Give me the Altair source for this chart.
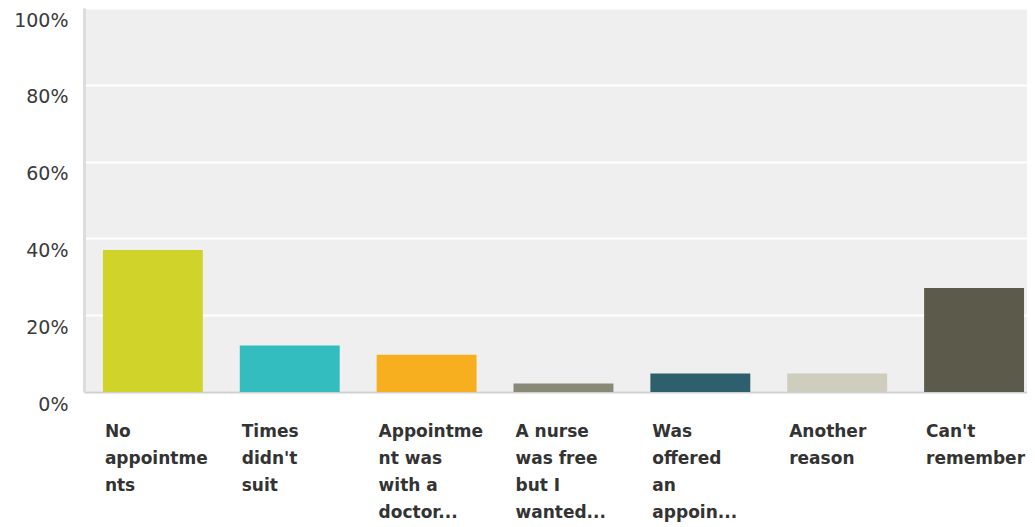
import altair as alt
import pandas as pd

# Category labels as displayed (line-wrapped like the reference)
label_lines = [
    ["No", "appointme", "nts"],
    ["Times", "didn't", "suit"],
    ["Appointme", "nt was", "with a", "doctor..."],
    ["A nurse", "was free", "but I", "wanted..."],
    ["Was", "offered", "an", "appoin..."],
    ["Another", "reason"],
    ["Can't", "remember"],
]
categories = ["|".join(l) for l in label_lines]
values = [0.370, 0.121, 0.097, 0.022, 0.048, 0.048, 0.271]
colors = ["#d0d42a", "#33bdbf", "#f7af20", "#888a77", "#2d5f6c", "#cfcdbd", "#5c5b4b"]
y_ticks = [0, 0.2, 0.4, 0.6, 0.8, 1.0]

df = pd.DataFrame({"category": categories, "value": values})

chart = (
    alt.Chart(df)
    .mark_bar()
    .encode(
        x=alt.X(
            "category:N",
            sort=None,
            title=None,
            scale=alt.Scale(paddingInner=0.27, paddingOuter=0.08, align=0.864, round=False),
            axis=alt.Axis(
                labelExpr="split(datum.value, '|')",
                labelAngle=0,
                labelAlign="left",
                labelBaseline="alphabetic",
                labelOffset=-48,
                labelPadding=44,
                labelLineHeight=27,
                labelFont="DejaVu Sans",
                labelFontWeight="bold",
                labelFontSize=17,
                labelColor="#333333",
                labelLimit=0,
                ticks=False,
                tickSize=0,
                domainColor="#d0d0d0",
                domainWidth=2,
                grid=False,
            ),
        ),
        y=alt.Y(
            "value:Q",
            title=None,
            scale=alt.Scale(domain=[0, 1], nice=False),
            axis=alt.Axis(
                values=y_ticks,
                format=".0%",
                labelFont="DejaVu Sans",
                labelFontSize=19,
                labelColor="#3a3a3a",
                labelBaseline="middle",
                labelOffset=12,
                labelPadding=16,
                ticks=False,
                tickSize=0,
                domainColor="#dcdcdc",
                domainWidth=3,
                gridColor="#ffffff",
                gridWidth=2,
                gridOpacity=1,
            ),
        ),
        color=alt.Color(
            "category:N",
            sort=None,
            scale=alt.Scale(domain=categories, range=colors),
            legend=None,
        ),
    )
    .properties(
        width=1019,
        height=519,
        background="#ffffff",
        padding={"left": 5, "top": 0, "right": 0, "bottom": 7},
        autosize=alt.AutoSizeParams(type="fit", contains="padding"),
    )
    .configure_view(fill="#efefef", stroke=None)
)

chart.save("out.html", embed_options={"renderer": "svg", "actions": False})
